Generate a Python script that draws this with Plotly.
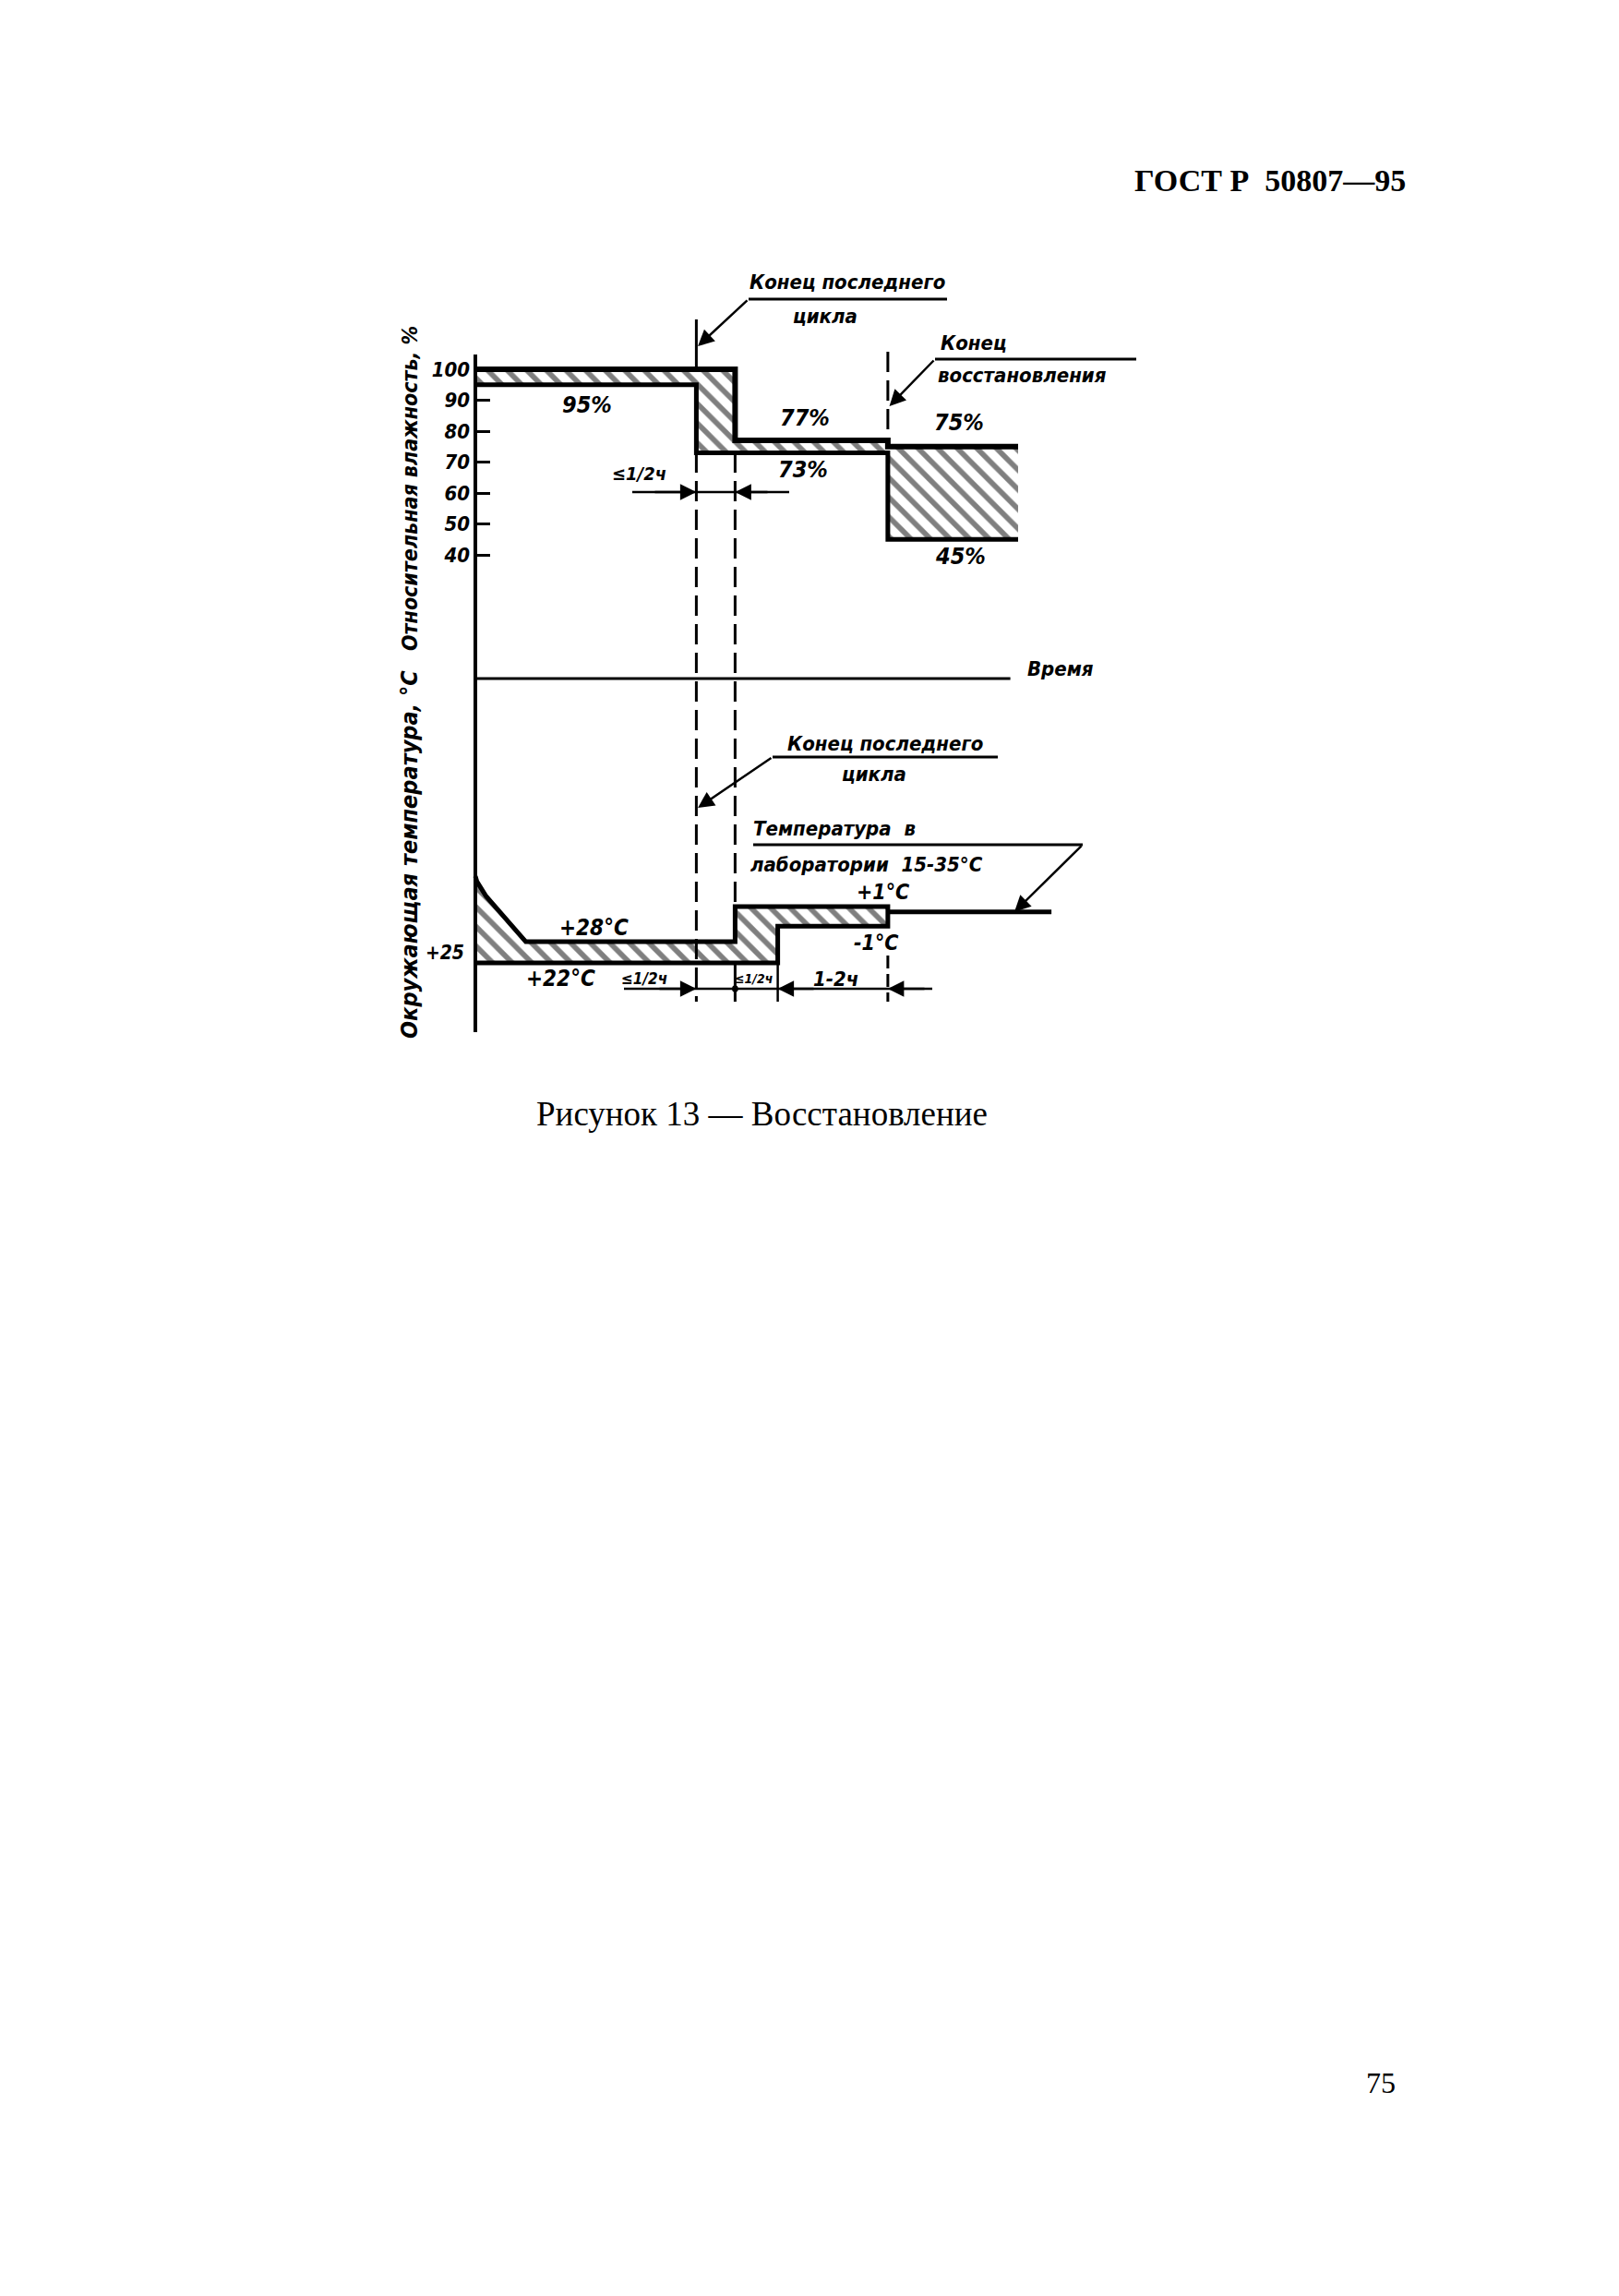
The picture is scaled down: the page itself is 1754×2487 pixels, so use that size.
import plotly.graph_objects as go

# ---------------- data (schematic) ----------------
# time breakpoints, schematic hours from the start of the drawing
T_CYCLE_END = 2.85      # end of the last cycle
T_RH_STEP = 3.35        # cycle end + <=1/2 h (humidity)
T_TEMP_STEP = 3.90      # + <=1/2 h (temperature)
T_RECOVERY_END = 5.32   # + 1-2 h, end of recovery
T_RH_LINE_END = 7.0
T_AXIS_END = 6.9
T_LAB_END = 7.43

# relative humidity, %
RH_UPPER_T = [0, T_RH_STEP, T_RECOVERY_END, T_RH_LINE_END]
RH_UPPER = [100, 77, 75, 75]
RH_LOWER_T = [0, T_CYCLE_END, T_RECOVERY_END, T_RH_LINE_END]
RH_LOWER = [95, 73, 45, 45]
RH_TICKS = [40, 50, 60, 70, 80, 90, 100]
RH_TICK_LABELS = ["40", "50", "60", "70", "80", "90", "100"]

# ambient temperature, °C (schematic)
TEMP_UPPER_T = [0, 0.02, 0.14, 0.38, 0.65, T_RH_STEP, T_RH_STEP, T_RECOVERY_END]
TEMP_UPPER = [46.5, 45.0, 40.8, 34.6, 28, 28, 37.9, 37.9]
TEMP_LOWER_T = [0, T_TEMP_STEP, T_TEMP_STEP, T_RECOVERY_END]
TEMP_LOWER = [22, 22, 32.4, 32.4]
TEMP_LAB = 36.4
TEMP_TICKS = [25]
TEMP_TICK_LABELS = ["+25"]

# ---------------- page geometry ----------------
W, H = 1754, 2487
X0_PX, PX_PER_H = 507, 84.0
RH0_PX, PX_PER_RH = 727, 3.35
T25_PX, PX_PER_C = 1023.5, 3.83

def X(px):
    return (px - X0_PX) / PX_PER_H

def RH(py):
    return (RH0_PX - py) / PX_PER_RH

def TC(py):
    return 25 + (T25_PX - py) / PX_PER_C

def PY(py):
    return 1 - py / H

HAND = dict(family="DejaVu Sans Condensed, DejaVu Sans", color="black",
            style="italic", weight="bold")

def hf(size, base=HAND):
    d = dict(base)
    d["size"] = size
    return d

def steps(ts, ys):
    xs, yy = [], []
    for i, (t, y) in enumerate(zip(ts, ys)):
        if i > 0:
            xs.append(t)
            yy.append(ys[i - 1])
        xs.append(t)
        yy.append(y)
    return xs, yy

fig = go.Figure()
HATCH = dict(shape="\\", size=15, solidity=0.38, fgcolor="black", bgcolor="white")

# humidity band
ux, uy = steps(RH_UPPER_T, RH_UPPER)
lx, ly = steps(RH_LOWER_T, RH_LOWER)
fig.add_trace(go.Scatter(x=ux + lx[::-1], y=uy + ly[::-1], fill="toself", mode="lines",
                         line=dict(width=0, color="black"), fillcolor="white",
                         fillpattern=HATCH, hoverinfo="skip", showlegend=False))
fig.add_trace(go.Scatter(x=ux, y=uy, mode="lines", line=dict(width=6, color="black"),
                         showlegend=False, hoverinfo="skip"))
fig.add_trace(go.Scatter(x=lx, y=ly, mode="lines", line=dict(width=5, color="black"),
                         showlegend=False, hoverinfo="skip"))

# temperature band
tpx = TEMP_UPPER_T + TEMP_LOWER_T[::-1]
tpy = TEMP_UPPER + TEMP_LOWER[::-1]
fig.add_trace(go.Scatter(x=tpx, y=tpy, yaxis="y2", fill="toself", mode="lines",
                         line=dict(width=0, color="black"), fillcolor="white",
                         fillpattern=HATCH, hoverinfo="skip", showlegend=False))
fig.add_trace(go.Scatter(x=tpx, y=tpy, yaxis="y2", mode="lines",
                         line=dict(width=5, color="black"),
                         showlegend=False, hoverinfo="skip"))
fig.add_trace(go.Scatter(x=[T_RECOVERY_END, T_LAB_END], y=[TEMP_LAB, TEMP_LAB], yaxis="y2",
                         mode="lines", line=dict(width=5, color="black"),
                         showlegend=False, hoverinfo="skip"))

shapes = []
def seg(x0, y0, x1, y1, yref="y", width=3, dash="solid", xref="x"):
    shapes.append(dict(type="line", xref=xref, yref=yref, x0=x0, y0=y0, x1=x1, y1=y1,
                       line=dict(color="black", width=width, dash=dash)))

DASH = "22px,9px"
# vertical axis line and time axis
seg(0, PY(1110), 0, PY(376), yref="paper", width=4)
seg(0, 0, T_AXIS_END, 0, width=3)
# end of last cycle: solid above the band, dashed below
seg(T_CYCLE_END, 100, T_CYCLE_END, RH(338), width=3)
seg(T_CYCLE_END, PY(482), T_CYCLE_END, PY(1077), yref="paper", width=3, dash=DASH)
seg(T_RH_STEP, PY(482), T_RH_STEP, PY(976), yref="paper", width=3, dash=DASH)
seg(T_RH_STEP, PY(1035), T_RH_STEP, PY(1077), yref="paper", width=3)
# end of recovery
seg(T_RECOVERY_END, RH(373), T_RECOVERY_END, 77, width=3, dash=DASH)
seg(T_RECOVERY_END, TC(1027), T_RECOVERY_END, TC(1077), yref="y2", width=3, dash="14px,6px")
seg(T_TEMP_STEP, TC(1035), T_TEMP_STEP, TC(1077), yref="y2", width=2.5)
# leader underlines
seg(X(803), RH(316), X(1018), RH(316), width=3)
seg(X(1005), RH(381), X(1223), RH(381), width=3)
seg(X(829), TC(812), X(1073), TC(812), yref="y2", width=3)
seg(X(808), TC(907), X(1165), TC(907), yref="y2", width=3)
# dimension lines
seg(X(677), RH(525), X(847), RH(525), width=2.5)
seg(X(668), TC(1063), X(1002), TC(1063), yref="y2", width=2.5)
shapes.append(dict(type="circle", xref="x", yref="y2",
                   x0=T_RH_STEP - 0.04, x1=T_RH_STEP + 0.04,
                   y0=TC(1063) - 1.0, y1=TC(1063) + 1.0,
                   fillcolor="black", line=dict(width=0)))

ann = []
def arrow(x, y, ax, ay, yref="y"):
    ann.append(dict(x=x, y=y, ax=ax, ay=ay, xref="x", yref=yref, axref="x", ayref=yref,
                    text="", showarrow=True, arrowhead=2, arrowsize=1.4,
                    arrowwidth=2.5, arrowcolor="black"))

arrow(T_CYCLE_END + 0.02, RH(367), X(803), RH(316))
arrow(T_RECOVERY_END + 0.02, RH(432), X(1005), RH(381))
arrow(T_CYCLE_END + 0.02, TC(867), X(829), TC(812), yref="y2")
arrow(X(1091), TEMP_LAB, X(1165), TC(907), yref="y2")
arrow(T_CYCLE_END, RH(525), X(700), RH(525))
arrow(T_RH_STEP, RH(525), X(825), RH(525))
arrow(T_CYCLE_END, TC(1063), X(705), TC(1063), yref="y2")
arrow(T_TEMP_STEP, TC(1063), X(875), TC(1063), yref="y2")
arrow(T_RECOVERY_END, TC(1063), X(995), TC(1063), yref="y2")

def label(text, px, py, size=23, yref="y", xanchor="center", base=HAND):
    yv = (TC(py) if yref == "y2" else RH(py))
    ann.append(dict(x=X(px), y=yv, xref="x", yref=yref, text=text, showarrow=False,
                    xanchor=xanchor, yanchor="middle", font=hf(size, base)))

label("Конец последнего", 910, 297, 22)
label("цикла", 886, 334, 22)
label("Конец", 1009, 363, 22, xanchor="left")
label("восстановления", 1006, 398, 22, xanchor="left")
label("95%", 628, 430, 25)
label("77%", 864, 444, 25)
label("73%", 862, 500, 25)
label("75%", 1031, 449, 25)
label("45%", 1032, 594, 25)
label("≤1/2ч", 684, 505, 20)
label("Время", 1141, 716, 22)
label("Конец последнего", 951, 797, 22, yref="y2")
label("цикла", 939, 830, 22, yref="y2")
label("Температура  в", 806, 889, 22, yref="y2", xanchor="left")
label("лаборатории  15-35°С", 803, 928, 22, yref="y2", xanchor="left")
label("+1°C", 948, 958, 23, yref="y2")
label("+28°C", 635, 997, 24, yref="y2")
label("-1°C", 941, 1013, 23, yref="y2")
label("+22°C", 599, 1052, 24, yref="y2")
label("≤1/2ч", 690, 1052, 17, yref="y2")
label("≤1/2ч", 808, 1052, 14, yref="y2")
label("1-2ч", 897, 1052, 22, yref="y2")

# rotated axis titles
ann.append(dict(x=436 / W, y=PY(521), xref="paper", yref="paper", text="Относительная влажность, %",
                textangle=-90, showarrow=False, xanchor="center", yanchor="middle", font=hf(23)))
ann.append(dict(x=436 / W, y=PY(918), xref="paper", yref="paper", text="Окружающая температура, °C",
                textangle=-90, showarrow=False, xanchor="center", yanchor="middle", font=hf(25)))

# page texts
SERIF = "Liberation Serif, Times New Roman, serif"
ann.append(dict(x=1517 / W, y=PY(187), xref="paper", yref="paper", text="<b>ГОСТ Р  50807—95</b>",
                showarrow=False, xanchor="right", yanchor="middle",
                font=dict(family=SERIF, size=34, color="black")))
ann.append(dict(x=817 / W, y=PY(1198), xref="paper", yref="paper",
                text="Рисунок 13 — Восстановление", showarrow=False, xanchor="center",
                yanchor="middle", font=dict(family=SERIF, size=37, color="black")))
ann.append(dict(x=1488 / W, y=PY(2248), xref="paper", yref="paper", text="75",
                showarrow=False, xanchor="center", yanchor="middle",
                font=dict(family=SERIF, size=32, color="black")))

axis_pos = X0_PX / W
fig.update_layout(
    width=W, height=H, margin=dict(l=0, r=0, t=0, b=0),
    paper_bgcolor="white", plot_bgcolor="white", showlegend=False,
    xaxis=dict(domain=[0, 1], range=[X(0), X(W)], visible=False, fixedrange=True),
    yaxis=dict(domain=[0, 1], range=[RH(H), RH(0)], anchor="free", position=axis_pos,
               showgrid=False, zeroline=False, showline=False,
               ticks="inside", ticklen=15, tickwidth=3, tickcolor="black",
               tickvals=RH_TICKS, ticktext=RH_TICK_LABELS, tickfont=hf(22),
               ticklabelstandoff=6, fixedrange=True),
    yaxis2=dict(domain=[0, 1], range=[TC(H), TC(0)], overlaying="y", anchor="free",
                position=axis_pos, side="left", showgrid=False, zeroline=False,
                showline=False, ticks="", tickvals=TEMP_TICKS, ticktext=TEMP_TICK_LABELS,
                tickfont=hf(21), ticklabelstandoff=12, fixedrange=True),
    shapes=shapes, annotations=ann,
)

fig.write_html("out.html")
